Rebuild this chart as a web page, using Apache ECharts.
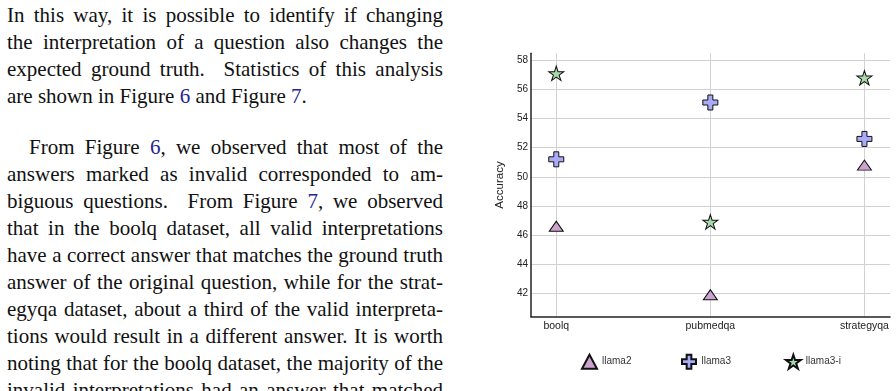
<!DOCTYPE html>
<html>
<head>
<meta charset="utf-8">
<script src="https://cdn.jsdelivr.net/npm/echarts@6/dist/echarts.min.js"></script>
<style>
html, body { margin: 0; padding: 0; width: 896px; height: 391px; overflow: hidden; background: #fff; }
#text { position: absolute; left: 7px; top: 1.5px; width: 436px; font-family: "Liberation Serif", "DejaVu Serif", serif; font-size: 21px; line-height: 27.05px; color: #111; }
#text .l { text-align: justify; text-align-last: justify; white-space: nowrap; }
#text .last { text-align: left; text-align-last: left; }
#text .ind { padding-left: 22px; }
#text .gap { height: 24px; }
#text a { color: #25258f; text-decoration: none; }
#chart { position: absolute; left: 460px; top: 0; width: 436px; height: 391px; }
</style>
</head>
<body>
<div id="text">
<div class="l">In this way, it is possible to identify if changing</div>
<div class="l">the interpretation of a question also changes the</div>
<div class="l">expected ground truth.&nbsp; Statistics of this analysis</div>
<div class="l last">are shown in Figure <a>6</a> and Figure <a>7</a>.</div>
<div class="gap"></div>
<div class="l ind">From Figure <a>6</a>, we observed that most of the</div>
<div class="l">answers marked as invalid corresponded to am-</div>
<div class="l">biguous questions.&nbsp; From Figure <a>7</a>, we observed</div>
<div class="l">that in the boolq dataset, all valid interpretations</div>
<div class="l">have a correct answer that matches the ground truth</div>
<div class="l">answer of the original question, while for the strat-</div>
<div class="l">egyqa dataset, about a third of the valid interpreta-</div>
<div class="l">tions would result in a different answer. It is worth</div>
<div class="l">noting that for the boolq dataset, the majority of the</div>
<div class="l">invalid interpretations had an answer that matched</div>
</div>
<div id="chart"></div>
<script>
// ---- data ----
const categories = ['boolq', 'pubmedqa', 'strategyqa'];
const llama2 = [46.6, 41.9, 50.8];
const llama3 = [51.2, 55.1, 52.6];
const llama3i = [57.1, 46.9, 56.8];
const yTicks = [42, 44, 46, 48, 50, 52, 54, 56, 58];
const xTicks = [0, 1, 2];
const seriesNames = ['llama2', 'llama3', 'llama3-i'];

// ---- styles ----
const plusPath = 'path://M1,0H2V1H3V2H2V3H1V2H0V1H1Z';
const starPath = 'path://M0,-1L0.2245,-0.309L0.9511,-0.309L0.3633,0.118L0.5878,0.809L0,0.382L-0.5878,0.809L-0.3633,0.118L-0.9511,-0.309L-0.2245,-0.309Z';
const styles = [
  { symbol: 'triangle', size: [14, 10], color: '#cca3cf' },
  { symbol: plusPath, size: [15, 15], color: '#aaaaf7' },
  { symbol: starPath, size: [15, 14.3], color: '#a9d8a9' }
];
const values = [llama2, llama3, llama3i];

const chart = echarts.init(document.getElementById('chart'), null, { renderer: 'canvas' });
const font = 'Liberation Sans, Arial, sans-serif';
const legendLefts = [121, 221, 325];

chart.setOption({
  animation: false,
  grid: { left: 71, right: 6, top: 53.3, bottom: 74.3 },
  xAxis: {
    type: 'value', min: -0.164, max: 2.166,
    axisLine: { show: true, onZero: false, lineStyle: { color: '#222', width: 1.5 } },
    axisTick: { show: false, customValues: xTicks },
    axisLabel: { customValues: xTicks, formatter: v => categories[Math.round(v)], fontSize: 10.5, color: '#222', fontFamily: font, margin: 4 },
    splitLine: { show: true, lineStyle: { color: '#d2d2d2', width: 1 } }
  },
  yAxis: {
    type: 'value', min: 40.39, max: 58.48,
    name: 'Accuracy', nameLocation: 'middle', nameGap: 24, nameRotate: 90,
    nameTextStyle: { fontSize: 11.5, color: '#222', fontFamily: font },
    axisLine: { show: true, onZero: false, lineStyle: { color: '#222', width: 1.5 } },
    axisTick: { show: false, customValues: yTicks },
    axisLabel: { customValues: yTicks, fontSize: 10, color: '#222', fontFamily: font, margin: 3 },
    splitLine: { show: true, lineStyle: { color: '#d2d2d2', width: 1 } }
  },
  legend: seriesNames.map((n, i) => ({
    data: [n], left: legendLefts[i], top: 353.7, padding: 0, itemWidth: 15, itemHeight: 14, itemGap: 0,
    textStyle: { fontSize: 10, color: '#333', fontFamily: font }
  })),
  series: seriesNames.map((n, i) => ({
    name: n, type: 'scatter',
    symbol: styles[i].symbol, symbolSize: styles[i].size,
    itemStyle: { color: styles[i].color, borderColor: '#111', borderWidth: 1, opacity: 1 },
    data: values[i].map((v, k) => [k, v])
  }))
});
</script>
</body>
</html>
